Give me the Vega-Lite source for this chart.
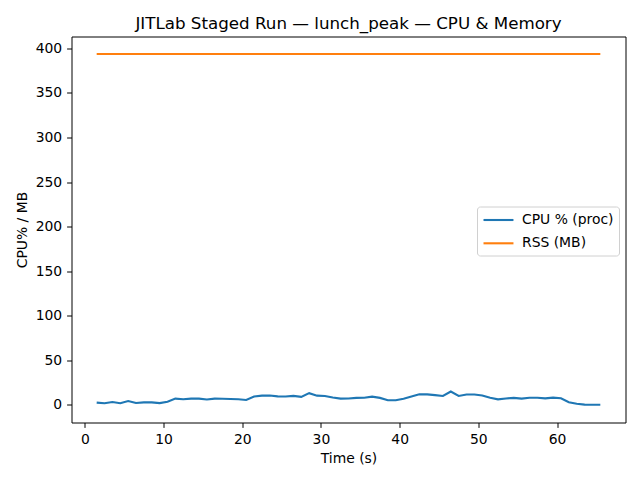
{
  "$schema": "https://vega.github.io/schema/vega-lite/v6.json",
  "autosize": "none",
  "width": 554,
  "height": 386,
  "padding": {"left": 71.5, "top": 36.5, "right": 14.5, "bottom": 57.5},
  "background": "white",
  "title": {
    "text": "JITLab Staged Run — lunch_peak — CPU & Memory",
    "font": "DejaVu Sans",
    "fontSize": 16.7,
    "fontWeight": "normal",
    "color": "black",
    "anchor": "middle",
    "offset": 4
  },
  "config": {
    "view": {"stroke": "black", "strokeWidth": 1},
    "axis": {
      "grid": false,
      "domain": false,
      "tickColor": "black",
      "tickSize": 4.9,
      "tickWidth": 1,
      "labelFont": "DejaVu Sans",
      "labelFontSize": 13.9,
      "labelColor": "black",
      "labelPadding": 4.9,
      "titleFont": "DejaVu Sans",
      "titleFontSize": 13.9,
      "titleFontWeight": "normal",
      "titleColor": "black"
    }
  },
  "data": {
    "values": [
      {"t": 1.5, "cpu": 2.6, "rss": 393.5},
      {"t": 2.5, "cpu": 1.9, "rss": 393.5},
      {"t": 3.5, "cpu": 3.3, "rss": 393.5},
      {"t": 4.5, "cpu": 1.9, "rss": 393.5},
      {"t": 5.5, "cpu": 4.4, "rss": 393.5},
      {"t": 6.5, "cpu": 2.2, "rss": 393.5},
      {"t": 7.5, "cpu": 2.9, "rss": 393.5},
      {"t": 8.5, "cpu": 2.9, "rss": 393.5},
      {"t": 9.5, "cpu": 2.0, "rss": 393.5},
      {"t": 10.5, "cpu": 3.6, "rss": 393.5},
      {"t": 11.5, "cpu": 7.1, "rss": 393.5},
      {"t": 12.5, "cpu": 6.4, "rss": 393.5},
      {"t": 13.5, "cpu": 7.1, "rss": 393.5},
      {"t": 14.5, "cpu": 7.1, "rss": 393.5},
      {"t": 15.5, "cpu": 6.1, "rss": 393.5},
      {"t": 16.5, "cpu": 7.1, "rss": 393.5},
      {"t": 17.5, "cpu": 7.0, "rss": 393.5},
      {"t": 18.5, "cpu": 6.6, "rss": 393.5},
      {"t": 19.5, "cpu": 6.3, "rss": 393.5},
      {"t": 20.5, "cpu": 5.6, "rss": 393.5},
      {"t": 21.5, "cpu": 9.4, "rss": 393.5},
      {"t": 22.5, "cpu": 10.4, "rss": 393.5},
      {"t": 23.5, "cpu": 10.5, "rss": 393.5},
      {"t": 24.5, "cpu": 9.6, "rss": 393.5},
      {"t": 25.5, "cpu": 9.4, "rss": 393.5},
      {"t": 26.5, "cpu": 10.1, "rss": 393.5},
      {"t": 27.5, "cpu": 9.0, "rss": 393.5},
      {"t": 28.5, "cpu": 13.2, "rss": 393.5},
      {"t": 29.5, "cpu": 10.4, "rss": 393.5},
      {"t": 30.5, "cpu": 10.1, "rss": 393.5},
      {"t": 31.5, "cpu": 8.3, "rss": 393.5},
      {"t": 32.5, "cpu": 7.1, "rss": 393.5},
      {"t": 33.5, "cpu": 7.2, "rss": 393.5},
      {"t": 34.5, "cpu": 7.9, "rss": 393.5},
      {"t": 35.5, "cpu": 8.0, "rss": 393.5},
      {"t": 36.5, "cpu": 9.3, "rss": 393.5},
      {"t": 37.5, "cpu": 7.9, "rss": 393.5},
      {"t": 38.5, "cpu": 5.3, "rss": 393.5},
      {"t": 39.5, "cpu": 5.3, "rss": 393.5},
      {"t": 40.5, "cpu": 7.0, "rss": 393.5},
      {"t": 41.5, "cpu": 9.4, "rss": 393.5},
      {"t": 42.5, "cpu": 12.0, "rss": 393.5},
      {"t": 43.5, "cpu": 11.8, "rss": 393.5},
      {"t": 44.5, "cpu": 11.0, "rss": 393.5},
      {"t": 45.5, "cpu": 10.0, "rss": 393.5},
      {"t": 46.5, "cpu": 15.0, "rss": 393.5},
      {"t": 47.5, "cpu": 10.1, "rss": 393.5},
      {"t": 48.5, "cpu": 11.7, "rss": 393.5},
      {"t": 49.5, "cpu": 11.7, "rss": 393.5},
      {"t": 50.5, "cpu": 10.6, "rss": 393.5},
      {"t": 51.5, "cpu": 8.0, "rss": 393.5},
      {"t": 52.5, "cpu": 6.3, "rss": 393.5},
      {"t": 53.5, "cpu": 7.3, "rss": 393.5},
      {"t": 54.5, "cpu": 7.9, "rss": 393.5},
      {"t": 55.5, "cpu": 7.1, "rss": 393.5},
      {"t": 56.5, "cpu": 8.0, "rss": 393.5},
      {"t": 57.5, "cpu": 8.0, "rss": 393.5},
      {"t": 58.5, "cpu": 7.4, "rss": 393.5},
      {"t": 59.5, "cpu": 8.2, "rss": 393.5},
      {"t": 60.5, "cpu": 7.5, "rss": 393.5},
      {"t": 61.5, "cpu": 3.0, "rss": 393.5},
      {"t": 62.5, "cpu": 1.3, "rss": 393.5},
      {"t": 63.5, "cpu": 0.3, "rss": 393.5},
      {"t": 64.5, "cpu": 0.2, "rss": 393.5},
      {"t": 65.5, "cpu": 0.2, "rss": 393.5}
    ]
  },
  "transform": [
    {"fold": ["cpu", "rss"], "as": ["series", "value"]}
  ],
  "mark": {"type": "line", "strokeWidth": 2.1, "clip": true},
  "encoding": {
    "x": {
      "field": "t",
      "type": "quantitative",
      "scale": {"domain": [-1.7, 68.7], "nice": false, "zero": false},
      "axis": {"title": "Time (s)", "values": [0, 10, 20, 30, 40, 50, 60], "titlePadding": 5}
    },
    "y": {
      "field": "value",
      "type": "quantitative",
      "scale": {"domain": [-19.7, 413.2], "nice": false, "zero": false},
      "axis": {"title": "CPU% / MB", "values": [0, 50, 100, 150, 200, 250, 300, 350, 400], "titlePadding": 6}
    },
    "color": {
      "field": "series",
      "type": "nominal",
      "scale": {"domain": ["cpu", "rss"], "range": ["#1f77b4", "#ff7f0e"]},
      "legend": {
        "title": null,
        "orient": "none",
        "legendX": 405.5,
        "legendY": 170,
        "labelExpr": "datum.value == 'cpu' ? 'CPU % (proc)' : 'RSS (MB)'",
        "symbolType": "M-1,0H3.28",
        "symbolSize": 196,
        "symbolStrokeWidth": 2.1,
        "symbolFillColor": "transparent",
        "labelFont": "DejaVu Sans",
        "labelFontSize": 13.9,
        "labelColor": "black",
        "labelOffset": 23,
        "rowPadding": 7.3,
        "padding": 5,
        "strokeColor": "#d0d0d0",
        "fillColor": "white",
        "cornerRadius": 3
      }
    }
  }
}
